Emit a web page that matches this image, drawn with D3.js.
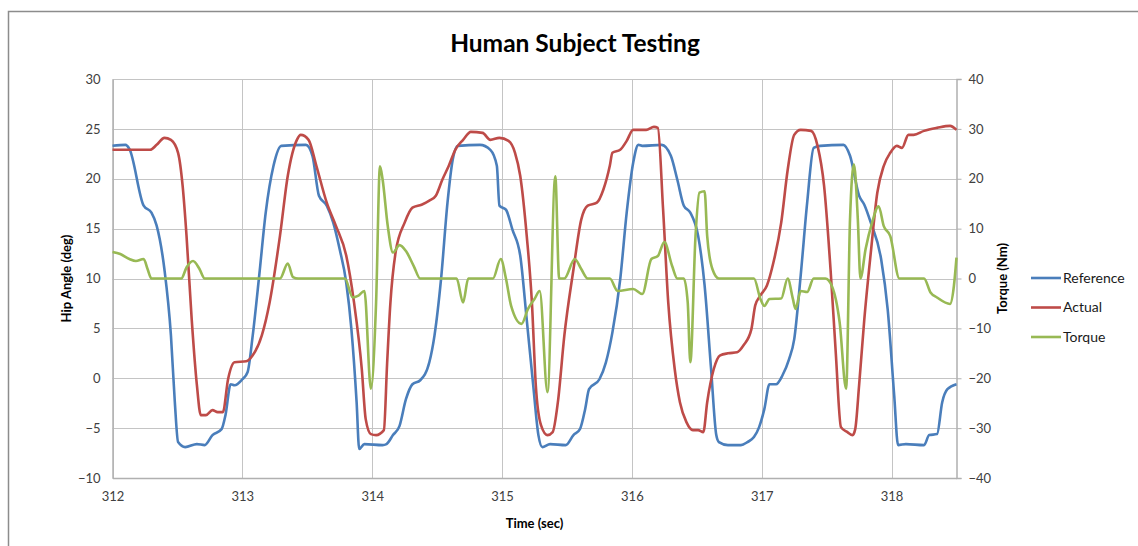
<!DOCTYPE html>
<html>
<head>
<meta charset="utf-8">
<script src="https://cdn.jsdelivr.net/npm/d3@7"></script>
<style>
  body { margin: 0; background: #fff; }
  text { font-family: Lato, "Open Sans", sans-serif; }
</style>
</head>
<body>
<div id="chart"></div>
<script>
// Reference hip angle (deg)
const refTime = [312.00, 312.10, 312.13, 312.24, 312.30, 312.34, 312.40, 312.45, 312.48, 312.505, 312.56, 312.65, 312.71, 312.77, 312.84, 312.87, 312.91, 312.94, 313.00, 313.04, 313.08, 313.13, 313.18, 313.24, 313.30, 313.49, 313.54, 313.59, 313.65, 313.70, 313.75, 313.80, 313.84, 313.88, 313.90, 313.94, 314.08, 314.11, 314.16, 314.21, 314.26, 314.31, 314.37, 314.44, 314.48, 314.53, 314.58, 314.62, 314.66, 314.83, 314.91, 314.96, 314.98, 315.03, 315.08, 315.14, 315.19, 315.24, 315.28, 315.31, 315.37, 315.49, 315.55, 315.60, 315.64, 315.67, 315.75, 315.80, 315.85, 315.91, 315.96, 316.01, 316.05, 316.08, 316.23, 316.30, 316.35, 316.40, 316.45, 316.51, 316.56, 316.61, 316.65, 316.67, 316.74, 316.84, 316.89, 316.94, 316.98, 317.02, 317.06, 317.11, 317.16, 317.21, 317.25, 317.30, 317.35, 317.40, 317.45, 317.63, 317.68, 317.75, 317.79, 317.84, 317.92, 317.97, 318.02, 318.05, 318.11, 318.25, 318.29, 318.35, 318.39, 318.43, 318.50];
const refAngle = [23.3, 23.4, 23.0, 17.3, 16.6, 15.3, 10.9, 4.3, -2.4, -6.4, -6.9, -6.6, -6.7, -5.7, -5.1, -3.7, -0.6, -0.7, -0.1, 0.6, 4.3, 10.3, 16.6, 21.3, 23.3, 23.4, 22.3, 18.3, 17.3, 15.6, 12.9, 9.6, 4.9, -2.4, -7.1, -6.6, -6.7, -6.6, -5.7, -4.8, -2.1, -0.6, -0.2, 1.6, 4.3, 9.9, 17.6, 21.9, 23.3, 23.4, 22.9, 21.3, 17.3, 16.9, 14.9, 12.3, 5.9, -0.7, -5.7, -6.9, -6.6, -6.7, -5.7, -5.1, -3.1, -1.1, -0.1, 1.6, 4.6, 9.9, 16.6, 21.6, 23.4, 23.3, 23.4, 22.3, 19.9, 17.3, 16.6, 14.3, 9.3, 0.9, -5.7, -6.4, -6.7, -6.7, -6.4, -5.9, -4.9, -3.1, -0.6, -0.6, 0.3, 1.9, 3.9, 10.3, 17.6, 23.1, 23.3, 23.4, 22.3, 18.3, 17.4, 15.6, 11.9, 6.9, -1.7, -6.7, -6.6, -6.7, -5.7, -5.6, -2.4, -1.1, -0.6];

// Actual hip angle (deg)
const actTime = [312.00, 312.29, 312.34, 312.40, 312.45, 312.505, 312.54, 312.57, 312.61, 312.65, 312.68, 312.72, 312.77, 312.81, 312.85, 312.89, 312.94, 313.03, 313.08, 313.15, 313.21, 313.29, 313.35, 313.42, 313.45, 313.51, 313.57, 313.65, 313.72, 313.80, 313.86, 313.92, 313.95, 313.99, 314.03, 314.09, 314.115, 314.14, 314.18, 314.25, 314.31, 314.38, 314.44, 314.49, 314.54, 314.59, 314.64, 314.70, 314.76, 314.85, 314.91, 314.98, 315.05, 315.10, 315.14, 315.19, 315.23, 315.26, 315.30, 315.35, 315.39, 315.43, 315.48, 315.55, 315.61, 315.66, 315.73, 315.78, 315.83, 315.85, 315.91, 315.96, 316.01, 316.11, 316.17, 316.20, 316.24, 316.28, 316.33, 316.37, 316.42, 316.47, 316.51, 316.55, 316.58, 316.63, 316.68, 316.74, 316.81, 316.86, 316.92, 316.95, 316.99, 317.04, 317.09, 317.15, 317.20, 317.25, 317.30, 317.38, 317.43, 317.48, 317.53, 317.57, 317.61, 317.66, 317.70, 317.72, 317.75, 317.79, 317.84, 317.89, 317.94, 317.99, 318.04, 318.08, 318.13, 318.17, 318.25, 318.35, 318.45, 318.50];
const actAngle = [22.9, 22.9, 23.4, 24.1, 23.9, 22.6, 19.3, 14.3, 5.9, -0.7, -3.7, -3.7, -3.2, -3.4, -3.4, -0.1, 1.6, 1.7, 2.3, 4.3, 7.6, 14.3, 20.3, 23.9, 24.4, 23.9, 21.3, 17.6, 15.3, 12.3, 7.6, 0.9, -4.1, -5.6, -5.7, -5.2, 1.5, 7.5, 12.6, 15.6, 17.1, 17.4, 17.8, 18.3, 19.9, 21.3, 22.9, 23.9, 24.7, 24.6, 23.9, 24.1, 23.8, 22.6, 20.3, 14.3, 7.6, -0.7, -4.7, -5.7, -5.4, -2.4, 4.3, 10.9, 15.9, 17.3, 17.6, 18.9, 21.3, 22.6, 22.9, 23.8, 24.9, 24.9, 25.2, 25.1, 17.0, 7.6, 0.9, -2.4, -4.4, -5.2, -5.2, -5.4, -2.4, 0.9, 2.3, 2.5, 2.6, 3.3, 4.9, 7.3, 8.3, 9.3, 11.6, 15.6, 20.9, 24.4, 24.9, 24.8, 23.3, 19.3, 10.9, 2.6, -4.9, -5.4, -5.7, -5.1, -0.7, 5.9, 12.6, 18.6, 21.3, 22.6, 23.3, 23.1, 24.4, 24.4, 24.8, 25.1, 25.3, 24.9];

// Torque (Nm), right axis
const torqueTime = [312.00, 312.06, 312.13, 312.18, 312.24, 312.27, 312.30, 312.53, 312.57, 312.62, 312.67, 312.71, 313.29, 313.35, 313.39, 313.43, 313.79, 313.85, 313.89, 313.94, 313.99, 314.03, 314.06, 314.08, 314.12, 314.16, 314.21, 314.26, 314.32, 314.37, 314.65, 314.70, 314.74, 314.93, 314.99, 315.03, 315.07, 315.15, 315.20, 315.25, 315.29, 315.35, 315.41, 315.44, 315.48, 315.56, 315.61, 315.66, 315.83, 315.89, 316.01, 316.08, 316.15, 316.20, 316.25, 316.31, 316.35, 316.40, 316.43, 316.45, 316.49, 316.52, 316.56, 316.58, 316.62, 316.67, 316.94, 316.99, 317.02, 317.06, 317.15, 317.20, 317.24, 317.26, 317.30, 317.35, 317.40, 317.49, 317.54, 317.60, 317.65, 317.68, 317.71, 317.74, 317.76, 317.80, 317.85, 317.90, 317.94, 317.99, 318.06, 318.25, 318.30, 318.35, 318.45, 318.48, 318.50];
const torqueNm = [5.3, 4.9, 3.9, 3.5, 3.9, 1.9, 0, 0, 2.2, 3.5, 1.9, 0, 0, 3.0, 0.3, 0, 0, -3.8, -3.5, -2.5, -22.1, -4.8, 22.5, 19.9, 10.5, 5.2, 6.7, 5.5, 2.5, 0, 0, -4.8, 0, 0, 3.9, 0, -5.5, -9.1, -6.1, -4.1, -2.5, -22.8, 20.5, 0, 0, 3.9, 1.9, 0, 0, -2.5, -2.1, -3.1, 3.9, 4.5, 7.3, 2.5, 0, 0, -4.8, -16.8, 8.5, 17.2, 17.5, 8.5, 1.9, 0, 0, -4.1, -5.5, -4.1, -4.0, 0, -4.1, -6.1, -2.5, -2.7, 0, 0, -1.5, -8.8, -22.1, 11.9, 22.9, 11.9, 0, 5.9, 11.2, 14.5, 10.5, 8.5, 0, 0, -2.8, -3.8, -5.1, -1.5, 4.2];

const xTicks = [312, 313, 314, 315, 316, 317, 318];
const leftTicks = [-10, -5, 0, 5, 10, 15, 20, 25, 30];
const rightTicks = [-40, -30, -20, -10, 0, 10, 20, 30, 40];

const seriesNames = ["Reference", "Actual", "Torque"];
const seriesColors = ["#4a7ebb", "#be4b48", "#98b954"];

const width = 1138;
const height = 546;
const plot = { left: 112.5, right: 956.5, top: 79, bottom: 478 };

const svg = d3
  .select("#chart")
  .append("svg")
  .attr("width", width)
  .attr("height", height);

// chart frame
svg
  .append("rect")
  .attr("x", 8.5)
  .attr("y", 11.5)
  .attr("width", 1140)
  .attr("height", 540)
  .attr("fill", "none")
  .attr("stroke", "#8c8c8c")
  .attr("stroke-width", 1.5);

const x = d3.scaleLinear().domain([312, 318.5]).range([plot.left, plot.right]);
const yL = d3.scaleLinear().domain([-10, 30]).range([plot.bottom, plot.top]);
const yR = d3.scaleLinear().domain([-40, 40]).range([plot.bottom, plot.top]);

// gridlines
const grid = svg.append("g").attr("stroke", "#c4c4c4").attr("stroke-width", 1);
grid
  .selectAll("line.h")
  .data(leftTicks)
  .join("line")
  .attr("class", "h")
  .attr("x1", plot.left)
  .attr("x2", plot.right)
  .attr("y1", (d) => Math.round(yL(d)) + 0.5)
  .attr("y2", (d) => Math.round(yL(d)) + 0.5);
grid
  .selectAll("line.v")
  .data(xTicks)
  .join("line")
  .attr("class", "v")
  .attr("x1", (d) => Math.round(x(d)) + 0.5)
  .attr("x2", (d) => Math.round(x(d)) + 0.5)
  .attr("y1", plot.top)
  .attr("y2", plot.bottom);

// axes
const axisColor = "#b0b0b0";
const leftAxis = svg
  .append("g")
  .attr("transform", `translate(${plot.left},0)`)
  .call(d3.axisLeft(yL).tickValues(leftTicks).tickSize(0).tickPadding(12));
const rightAxis = svg
  .append("g")
  .attr("transform", `translate(${plot.right},0)`)
  .call(d3.axisRight(yR).tickValues(rightTicks).tickSize(5).tickPadding(7));
const bottomAxis = svg
  .append("g")
  .attr("transform", `translate(0,${plot.bottom})`)
  .call(d3.axisBottom(x).tickValues(xTicks).tickFormat(d3.format("d")).tickSize(0).tickPadding(14));

[leftAxis, rightAxis, bottomAxis].forEach((a) => {
  a.select(".domain").attr("stroke", axisColor).attr("stroke-width", 1.5);
  a.selectAll(".tick line").attr("stroke", axisColor);
  a.selectAll(".tick text")
    .attr("fill", "#404040")
    .style("font-size", "13px")
    .style("font-family", "Lato, sans-serif");
});

// lines
const line = (ys) =>
  d3
    .line()
    .x((d) => x(d[0]))
    .y((d) => ys(d[1]))
    .curve(d3.curveMonotoneX);

const series = [
  { pts: d3.zip(refTime, refAngle), scale: yL },
  { pts: d3.zip(actTime, actAngle), scale: yL },
  { pts: d3.zip(torqueTime, torqueNm), scale: yR },
];

[0, 1, 2].forEach((i) => {
  svg
    .append("path")
    .datum(series[i].pts)
    .attr("fill", "none")
    .attr("stroke", seriesColors[i])
    .attr("stroke-width", 2.6)
    .attr("stroke-linejoin", "round")
    .attr("d", line(series[i].scale));
});

// title
svg
  .append("text")
  .attr("x", 575)
  .attr("y", 52)
  .attr("text-anchor", "middle")
  .style("font-size", "24.5px")
  .style("font-weight", "bold")
  .attr("fill", "#000")
  .text("Human Subject Testing");

// axis titles
svg
  .append("text")
  .attr("transform", `translate(71,${(plot.top + plot.bottom) / 2}) rotate(-90)`)
  .attr("text-anchor", "middle")
  .style("font-size", "13px")
  .style("font-weight", "bold")
  .text("Hip Angle (deg)");

svg
  .append("text")
  .attr("transform", `translate(1007,${(plot.top + plot.bottom) / 2}) rotate(-90)`)
  .attr("text-anchor", "middle")
  .style("font-size", "13px")
  .style("font-weight", "bold")
  .text("Torque (Nm)");

svg
  .append("text")
  .attr("x", (plot.left + plot.right) / 2)
  .attr("y", 528)
  .attr("text-anchor", "middle")
  .style("font-size", "13px")
  .style("font-weight", "bold")
  .text("Time (sec)");

// legend
const legend = svg
  .append("g")
  .selectAll("g")
  .data(seriesNames)
  .join("g")
  .attr("transform", (d, i) => `translate(1031,${278 + i * 29.5})`);
legend
  .append("line")
  .attr("x1", 0)
  .attr("x2", 30)
  .attr("stroke", (d, i) => seriesColors[i])
  .attr("stroke-width", 2.6);
legend
  .append("text")
  .attr("x", 32)
  .attr("dy", "0.35em")
  .style("font-size", "14px")
  .attr("fill", "#1a1a1a")
  .text((d) => d);
</script>
</body>
</html>
